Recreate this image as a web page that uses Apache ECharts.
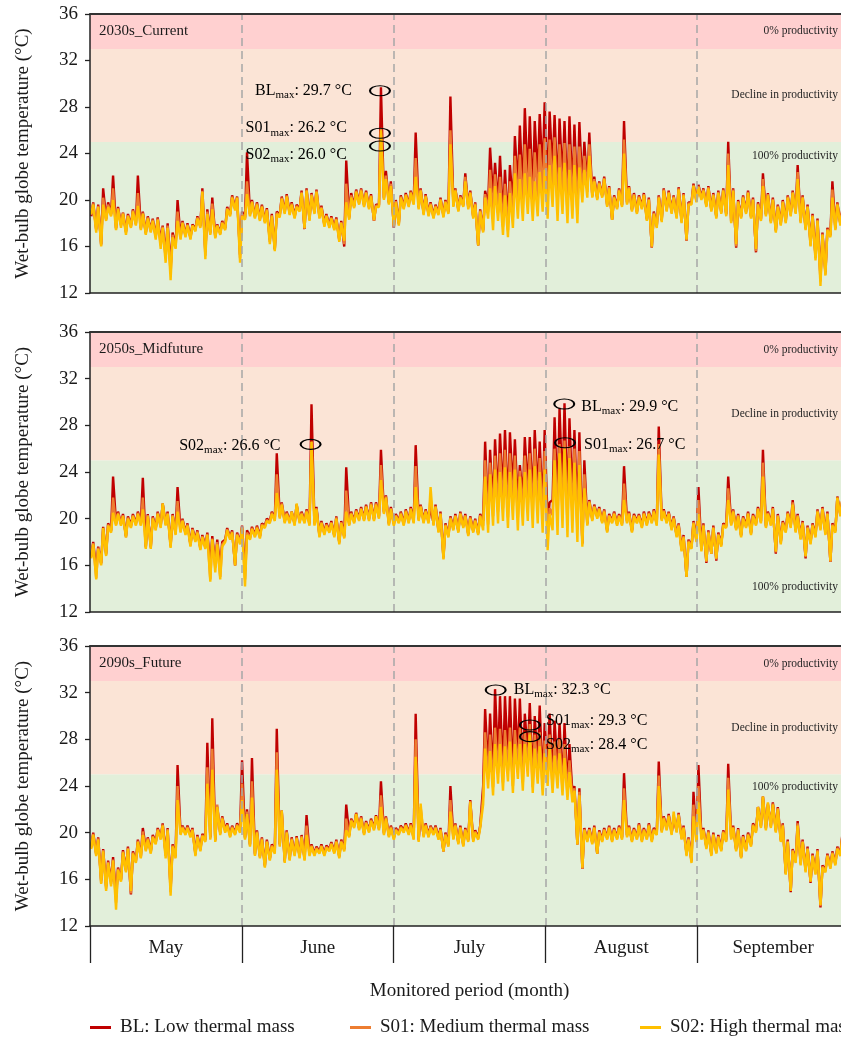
<!DOCTYPE html>
<html><head><meta charset="utf-8">
<script src="https://cdn.jsdelivr.net/npm/echarts@6/dist/echarts.min.js"></script>
<style>html,body{margin:0;padding:0;background:#fff}#c{width:841px;height:1042px}</style>
</head><body><div id="c"></div>
<script>
// ---------------- DATA ----------------
const months = ['May', 'June', 'July', 'August', 'September'];
const totalDays = 153;
const yTickMin = 12, yTickMax = 36, yTickStep = 4;
const panelNames = ['2030s_Current', '2050s_Midfuture', '2090s_Future'];
const seriesNames = ['BL: Low thermal mass', 'S01: Medium thermal mass', 'S02: High thermal mass'];
const bandNames = ['100% productivity', 'Decline in productivity', '0% productivity'];
const bandLimits = [12, 25, 33, 36];
const xTitle = 'Monitored period (month)';
const yTitle = 'Wet-bulb globe temperature (°C)';

// daily [min, max] pairs, May 1 .. September 30
const bl2030 = [
18.6,19.8, 17.5,19.6, 16.2,21.0, 18.4,19.8, 18.8,22.1, 17.6,19.4, 17.9,18.9, 17.3,18.8, 17.8,19.2, 18.0,22.1,
17.6,19.0, 17.2,18.6, 17.4,18.4, 16.9,18.5, 16.4,17.8, 15.3,18.0, 14.2,17.2, 16.0,20.0, 16.8,18.2, 17.0,18.0,
16.8,17.9, 17.5,18.6, 17.8,21.0, 15.5,19.2, 17.2,20.2, 16.9,17.9, 17.2,18.2, 17.6,19.4, 18.8,20.4, 19.3,20.3,
15.3,19.0, 18.5,24.1, 18.8,20.0, 18.6,19.8, 18.4,19.6, 18.2,19.3, 16.6,18.8, 15.8,19.0, 18.7,20.3, 19.0,20.5,
18.9,19.8, 18.6,19.6, 19.2,20.8, 17.5,21.0, 18.4,20.6, 19.0,20.9, 18.6,19.5, 17.9,18.8, 17.8,18.6, 17.6,18.5,
16.6,18.2, 16.0,23.4, 18.5,20.6, 19.5,20.9, 19.8,21.0, 19.6,20.8, 19.4,20.5, 18.2,19.6, 19.6,29.7, 20.2,22.5,
19.8,21.6, 17.6,20.0, 18.0,20.4, 19.4,20.6, 19.6,20.8, 19.8,25.8, 19.4,21.0, 18.9,20.5, 18.8,19.8, 18.6,19.6,
18.9,20.2, 18.7,20.0, 19.0,28.9, 19.6,21.0, 19.2,20.4, 19.6,22.3, 19.4,20.8, 18.6,19.8, 16.1,19.2, 17.4,20.8,
19.6,24.5, 20.2,23.2, 19.6,23.8, 18.4,22.6, 18.0,23.0, 19.5,25.5, 21.0,26.4, 20.5,27.9, 21.4,27.2, 20.2,26.8,
21.8,27.4, 22.2,28.4, 21.0,27.6, 22.4,27.3, 20.6,27.0, 21.5,26.8, 19.8,27.2, 20.4,26.5, 19.6,26.7, 21.0,25.0,
21.2,25.8, 20.4,22.0, 20.2,21.6, 20.4,22.0, 19.6,21.2, 18.3,20.4, 19.4,21.0, 19.6,26.8, 19.8,21.2, 19.2,20.6,
19.0,20.4, 19.4,20.6, 18.4,20.2, 15.9,19.0, 17.8,20.4, 18.3,21.0, 19.2,20.8, 19.0,20.4, 18.6,21.1, 18.2,20.6,
16.5,19.8, 19.8,21.4, 20.0,21.3, 20.2,21.0, 19.6,21.2, 19.2,20.6, 18.6,20.8, 19.0,21.0, 18.8,25.0, 18.2,21.0,
15.9,20.0, 18.6,20.4, 19.0,20.8, 18.6,20.2, 15.5,19.8, 18.4,22.3, 18.8,20.6, 18.2,20.2, 17.4,19.6, 18.0,20.0,
18.2,20.4, 18.8,20.8, 19.0,23.0, 18.2,20.4, 17.6,19.6, 16.3,18.8, 15.2,18.4, 13.4,17.2, 13.8,17.6, 17.0,21.6,
17.6,19.8, 18.0,19.2, 18.2,19.0
];
const s01_2030 = [
18.7,19.7, 17.4,19.5, 16.1,20.2, 18.3,19.6, 18.7,21.0, 17.5,19.3, 17.8,18.9, 17.2,18.7, 17.7,19.1, 17.9,20.6,
17.5,18.9, 17.1,18.5, 17.3,18.3, 16.8,18.4, 16.1,17.7, 15.0,17.8, 13.7,17.0, 15.9,19.0, 16.7,18.1, 16.9,17.9,
16.7,17.8, 17.4,18.5, 17.7,20.8, 15.2,19.0, 17.1,19.7, 16.8,17.8, 17.1,18.1, 17.5,19.3, 18.7,20.3, 19.2,20.2,
15.0,18.8, 18.4,21.6, 18.7,19.9, 18.5,19.7, 18.3,19.5, 18.1,19.2, 16.4,18.7, 15.7,18.9, 18.6,20.2, 18.9,20.4,
18.8,19.7, 18.5,19.5, 19.1,20.7, 17.5,20.9, 18.3,20.5, 18.9,20.8, 18.5,19.4, 17.8,18.7, 17.7,18.5, 17.5,18.4,
16.5,18.1, 16.2,21.4, 18.4,20.4, 19.4,20.8, 19.7,20.9, 19.5,20.7, 19.3,20.4, 18.2,19.5, 19.5,26.2, 20.1,22.1,
19.7,21.4, 17.7,19.9, 17.9,20.3, 19.3,20.5, 19.5,20.7, 19.7,23.6, 19.3,20.9, 18.8,20.4, 18.7,19.7, 18.5,19.5,
18.8,20.1, 18.6,19.9, 18.9,26.0, 19.5,20.9, 19.1,20.3, 19.5,22.0, 19.3,20.7, 18.5,19.7, 16.1,19.1, 17.3,20.5,
19.0,22.6, 18.8,22.2, 18.9,22.0, 17.7,21.4, 17.4,21.6, 18.5,23.8, 19.7,23.9, 19.3,24.8, 20.1,24.4, 19.2,24.1,
20.2,24.8, 20.6,25.3, 19.7,25.2, 20.9,25.4, 19.4,24.8, 20.1,24.9, 18.9,24.8, 19.4,24.6, 18.8,24.6, 20.4,23.8,
20.7,24.8, 20.3,21.8, 20.1,21.5, 20.3,21.9, 19.5,21.1, 18.3,20.3, 19.3,20.9, 19.5,25.2, 19.7,21.1, 19.1,20.5,
18.9,20.3, 19.3,20.5, 18.3,20.1, 15.9,18.9, 17.7,20.3, 18.2,20.9, 19.1,20.7, 18.9,20.3, 18.5,21.0, 18.1,20.5,
16.5,19.7, 19.7,21.3, 19.9,21.2, 20.1,20.9, 19.5,21.1, 19.1,20.5, 18.5,20.7, 18.9,20.9, 18.7,24.0, 18.1,20.9,
16.0,19.9, 18.5,20.3, 18.9,20.7, 18.5,20.1, 15.6,19.7, 18.3,21.8, 18.7,20.5, 18.1,20.1, 17.3,19.5, 17.9,19.9,
18.1,20.3, 18.7,20.7, 18.9,22.4, 18.1,20.3, 17.5,19.5, 16.1,18.7, 15.0,18.3, 13.0,17.1, 13.6,17.5, 16.9,20.9,
17.5,19.7, 17.9,19.1, 18.1,18.9
];
const s02_2030 = [
18.8,19.6, 17.2,19.4, 16.0,19.6, 18.2,19.4, 18.6,20.0, 17.4,19.2, 17.6,18.8, 17.0,18.6, 17.6,19.0, 17.8,19.5,
17.4,18.8, 17.0,18.4, 17.2,18.2, 16.6,18.3, 15.8,17.6, 14.6,17.6, 13.1,16.8, 15.8,18.2, 16.6,18.0, 16.8,17.8,
16.6,17.8, 17.3,18.4, 17.6,20.7, 14.9,18.8, 17.0,19.2, 16.7,17.8, 17.0,18.0, 17.4,19.2, 18.6,20.2, 19.1,20.2,
14.6,18.6, 18.3,20.5, 18.6,19.8, 18.4,19.6, 18.2,19.4, 18.0,19.1, 16.2,18.6, 15.6,18.8, 18.5,20.1, 18.8,20.3,
18.7,19.6, 18.4,19.4, 19.0,20.6, 17.6,20.8, 18.2,20.4, 18.8,20.7, 18.4,19.3, 17.7,18.6, 17.6,18.4, 17.4,18.3,
16.4,18.0, 16.5,19.8, 18.3,20.2, 19.3,20.7, 19.6,20.8, 19.4,20.6, 19.2,20.3, 18.3,19.4, 19.4,26.0, 20.0,21.8,
19.6,21.2, 17.8,19.8, 17.8,20.2, 19.2,20.4, 19.4,20.6, 19.6,22.0, 19.2,20.8, 18.7,20.3, 18.6,19.6, 18.4,19.4,
18.7,20.0, 18.5,19.8, 18.8,24.8, 19.4,20.8, 19.0,20.2, 19.4,21.6, 19.2,20.6, 18.4,19.6, 16.1,19.0, 17.2,20.2,
18.4,21.0, 17.4,21.2, 18.2,20.6, 17.0,20.4, 16.8,20.6, 17.6,22.3, 18.4,21.8, 18.2,22.3, 18.8,22.0, 18.2,21.6,
18.6,22.4, 19.0,22.6, 18.4,23.0, 19.4,23.8, 18.2,22.8, 18.8,23.2, 18.0,22.6, 18.4,23.0, 18.0,22.8, 19.8,22.6,
20.2,23.8, 20.2,21.6, 20.0,21.4, 20.2,21.8, 19.4,21.0, 18.3,20.2, 19.2,20.8, 19.4,24.0, 19.6,21.0, 19.0,20.4,
18.8,20.2, 19.2,20.4, 18.2,20.0, 16.0,18.8, 17.6,20.2, 18.1,20.8, 19.0,20.6, 18.8,20.2, 18.4,20.9, 18.0,20.4,
16.6,19.6, 19.6,21.2, 19.8,21.1, 20.0,20.8, 19.4,21.0, 19.0,20.4, 18.4,20.6, 18.8,20.8, 18.6,23.0, 18.0,20.8,
16.2,19.8, 18.4,20.2, 18.8,20.6, 18.4,20.0, 15.8,19.6, 18.2,21.2, 18.6,20.4, 18.0,20.0, 17.2,19.4, 17.8,19.8,
18.0,20.2, 18.6,20.6, 18.8,21.8, 18.0,20.2, 17.4,19.4, 16.0,18.6, 14.8,18.2, 12.6,17.0, 13.5,17.4, 16.8,20.2,
17.4,19.6, 17.8,19.0, 18.0,18.8
];
const bl2050 = [
16.8,18.0, 15.6,17.6, 16.2,19.3, 17.0,19.6, 19.0,23.6, 19.6,20.6, 19.6,20.4, 18.5,20.2, 19.4,20.4, 19.6,20.6,
19.6,23.5, 17.6,20.4, 17.6,20.2, 19.2,20.6, 19.4,21.3, 19.6,20.6, 17.7,20.4, 18.8,22.7, 19.0,20.0, 18.8,19.6,
17.8,19.2, 18.2,19.0, 17.5,18.6, 17.6,18.8, 16.0,18.5, 16.2,18.2, 15.8,18.0, 18.2,19.2, 18.4,19.0, 16.0,18.8,
18.0,19.4, 15.5,19.0, 18.4,19.3, 18.6,19.4, 18.5,19.6, 19.4,20.0, 19.8,20.6, 20.0,25.6, 20.2,21.4, 19.8,20.6,
19.8,20.6, 19.6,21.2, 19.8,20.6, 19.8,20.8, 19.6,29.8, 19.6,21.0, 18.6,19.8, 18.8,19.6, 19.0,19.8, 18.6,20.2,
18.0,19.8, 18.5,24.4, 19.6,20.6, 19.8,20.8, 20.0,21.0, 20.0,21.2, 20.0,21.4, 20.0,21.4, 20.2,25.9, 20.6,22.0,
19.6,21.0, 19.6,20.4, 19.8,20.6, 19.6,20.8, 19.8,21.0, 19.8,26.3, 20.0,21.2, 19.8,20.8, 19.8,21.0, 19.6,21.2,
19.0,20.6, 16.7,19.6, 18.6,20.2, 19.2,20.4, 19.0,20.6, 19.4,20.4, 18.7,20.2, 19.0,20.0, 18.8,20.4, 19.8,26.6,
20.2,25.9, 21.0,26.8, 21.6,27.3, 22.0,27.6, 21.0,27.4, 22.4,26.8, 21.2,24.6, 21.8,27.0, 22.4,27.0, 21.6,27.6,
22.2,26.6, 20.8,27.6, 19.8,21.4, 21.6,28.7, 21.0,29.5, 22.0,29.9, 20.8,28.6, 21.4,27.6, 20.2,27.4, 17.9,25.0,
19.6,21.6, 20.0,21.2, 20.2,21.0, 19.8,20.8, 19.0,20.4, 19.8,20.6, 19.6,20.4, 19.6,24.5, 19.8,20.6, 19.0,20.4,
19.8,20.4, 19.4,20.6, 19.6,20.6, 19.8,20.8, 19.6,27.9, 20.0,20.8, 19.8,20.6, 19.2,20.2, 18.6,19.6, 17.4,18.6,
15.0,18.2, 17.6,19.8, 18.2,22.7, 17.4,19.6, 16.2,19.0, 17.0,19.4, 16.4,18.8, 17.8,19.6, 19.4,23.6, 19.6,20.8,
19.2,20.4, 18.6,20.2, 19.4,20.6, 18.8,20.4, 19.6,21.0, 19.8,25.9, 19.4,20.6, 19.6,21.0, 17.0,20.4, 18.0,19.8,
19.0,20.6, 19.4,21.6, 19.0,20.4, 18.4,19.8, 16.6,19.4, 18.0,19.6, 18.6,20.8, 19.2,21.0, 18.8,20.6, 16.3,19.6,
19.0,21.9, 20.4,21.6, 20.6,21.8
];
const s01_2050 = [
16.7,17.9, 14.9,17.5, 16.1,19.2, 16.9,19.5, 18.9,21.8, 19.5,20.5, 19.5,20.3, 18.4,20.1, 19.3,20.3, 19.5,20.5,
19.5,21.8, 17.5,20.3, 17.5,20.1, 19.1,20.5, 19.3,21.3, 19.5,20.5, 17.6,20.3, 18.7,21.5, 18.9,19.9, 18.7,19.5,
17.7,19.1, 18.1,18.9, 17.4,18.5, 17.5,18.7, 14.8,18.3, 15.8,18.0, 15.0,17.8, 18.1,19.1, 18.3,18.9, 16.0,18.7,
17.9,19.3, 14.8,18.8, 18.3,19.2, 18.5,19.3, 18.4,19.5, 19.3,19.9, 19.7,20.5, 19.9,23.8, 20.1,21.3, 19.7,20.5,
19.7,20.6, 19.5,21.2, 19.7,20.5, 19.7,20.7, 19.5,26.6, 19.5,20.9, 18.5,19.7, 18.7,19.5, 18.9,19.7, 18.5,20.1,
17.9,19.7, 18.4,22.4, 19.5,20.5, 19.7,20.7, 19.9,20.9, 19.9,21.1, 19.9,21.3, 19.9,21.3, 20.1,24.6, 20.5,21.9,
19.5,20.9, 19.5,20.3, 19.7,20.5, 19.5,20.7, 19.7,20.9, 19.7,24.5, 19.9,21.1, 19.7,20.7, 19.7,21.8, 19.5,21.1,
18.9,20.5, 16.6,19.5, 18.5,20.1, 19.1,20.3, 18.9,20.5, 19.3,20.3, 18.6,20.1, 18.9,19.9, 18.7,20.3, 19.4,25.0,
19.5,24.8, 20.2,25.4, 20.6,25.6, 20.9,25.9, 20.1,25.6, 21.1,25.4, 20.1,24.1, 20.6,25.4, 21.1,25.6, 20.4,26.0,
20.9,25.2, 19.8,25.8, 18.6,20.9, 20.3,26.0, 19.8,26.4, 20.6,26.7, 19.6,26.2, 20.1,26.0, 19.1,25.8, 17.8,23.8,
19.5,21.5, 19.9,21.1, 20.1,20.9, 19.7,20.7, 18.9,20.3, 19.7,20.5, 19.5,20.3, 19.5,23.0, 19.7,20.5, 18.9,20.3,
19.7,20.3, 19.3,20.5, 19.5,20.5, 19.7,20.7, 19.5,26.4, 19.9,20.7, 19.7,20.5, 19.1,20.1, 18.5,19.5, 17.3,18.5,
15.0,18.1, 17.5,19.7, 18.1,21.6, 17.3,19.5, 16.3,18.9, 17.0,19.3, 16.5,18.7, 17.7,19.5, 19.3,22.6, 19.5,20.7,
19.1,20.3, 18.5,20.1, 19.3,20.5, 18.7,20.3, 19.5,20.9, 19.7,24.8, 19.3,20.5, 19.5,20.9, 17.1,20.3, 17.9,19.7,
18.9,20.5, 19.3,21.4, 18.9,20.3, 18.3,19.7, 16.7,19.3, 17.9,19.5, 18.5,20.7, 19.1,20.9, 18.7,20.5, 16.3,19.5,
18.9,21.8, 20.3,21.6, 20.5,21.8
];
const s02_2050 = [
16.6,17.8, 14.8,17.4, 16.0,19.2, 16.8,19.4, 18.8,20.5, 19.4,20.4, 19.4,20.2, 18.4,20.0, 19.2,20.2, 19.4,20.4,
19.4,20.8, 17.4,20.2, 17.4,20.0, 19.0,20.4, 19.2,21.3, 19.4,20.4, 17.5,20.2, 18.6,20.6, 18.8,19.8, 18.6,19.4,
17.6,19.0, 18.0,18.8, 17.3,18.4, 17.4,18.6, 14.6,18.2, 15.4,17.8, 14.8,17.6, 18.0,19.0, 18.2,18.8, 16.0,18.6,
17.8,19.2, 14.2,18.6, 18.2,19.1, 18.4,19.2, 18.3,19.4, 19.2,19.8, 19.6,20.4, 19.8,22.2, 20.0,21.2, 19.6,20.4,
19.6,20.6, 19.4,21.3, 19.6,20.4, 19.6,20.6, 19.4,26.6, 19.4,20.8, 18.4,19.6, 18.6,19.4, 18.8,19.6, 18.4,20.0,
17.8,19.6, 18.3,20.6, 19.4,20.4, 19.6,20.6, 19.8,20.8, 19.8,21.0, 19.8,21.2, 19.8,21.2, 20.0,23.3, 20.4,21.8,
19.4,20.8, 19.4,20.2, 19.6,20.4, 19.4,20.6, 19.6,20.8, 19.6,22.7, 19.8,21.0, 19.6,20.6, 19.6,22.7, 19.4,21.0,
18.8,20.4, 16.5,19.4, 18.4,20.0, 19.0,20.2, 18.8,20.4, 19.2,20.2, 18.5,20.0, 18.8,19.8, 18.6,20.2, 19.0,23.6,
18.8,23.8, 19.4,24.2, 19.6,24.0, 19.8,24.4, 19.2,24.0, 19.9,24.2, 19.0,23.6, 19.4,24.0, 19.8,24.2, 19.2,24.5,
19.6,24.0, 18.8,24.2, 17.3,20.4, 19.0,25.0, 18.6,25.6, 19.2,26.0, 18.4,25.2, 18.8,24.8, 18.0,24.6, 17.6,22.6,
19.4,21.4, 19.8,21.0, 20.0,20.8, 19.6,20.6, 18.8,20.2, 19.6,20.4, 19.4,20.2, 19.4,21.6, 19.6,20.4, 18.8,20.2,
19.6,20.2, 19.2,20.4, 19.4,20.4, 19.6,20.6, 19.4,25.5, 19.8,20.6, 19.6,20.4, 19.0,20.0, 18.4,19.4, 17.2,18.4,
15.0,18.0, 17.4,19.6, 18.0,20.4, 17.2,19.4, 16.4,18.8, 17.0,19.2, 16.6,18.6, 17.6,19.4, 19.2,21.6, 19.4,20.6,
19.0,20.2, 18.4,20.0, 19.2,20.4, 18.6,20.2, 19.4,20.8, 19.6,23.6, 19.2,20.4, 19.4,20.8, 17.2,20.2, 17.8,19.6,
18.8,20.4, 19.2,21.2, 18.8,20.2, 18.2,19.6, 16.8,19.2, 17.8,19.4, 18.4,20.6, 19.0,20.8, 18.6,20.4, 16.4,19.4,
18.8,21.8, 20.2,21.6, 20.4,21.8
];
const bl2090 = [
18.8,20.0, 18.2,19.6, 15.9,18.6, 15.4,17.6, 15.8,17.9, 14.5,17.0, 16.0,18.5, 16.8,18.8, 14.7,18.4, 17.6,19.4,
18.0,20.4, 18.6,19.6, 18.4,19.8, 19.2,20.4, 19.6,20.8, 18.2,20.4, 15.2,19.0, 18.0,25.8, 20.0,20.6, 20.0,20.6,
19.8,20.4, 18.2,19.8, 18.6,19.9, 19.4,27.7, 19.6,29.8, 19.4,22.2, 20.0,21.4, 20.2,20.8, 19.8,20.6, 20.0,20.8,
20.2,26.2, 19.6,22.0, 19.0,26.4, 18.2,20.2, 18.0,19.6, 17.2,19.4, 17.8,19.0, 18.4,28.9, 19.0,21.9, 17.6,20.2,
17.8,19.6, 18.2,19.7, 18.0,19.8, 17.8,21.5, 18.2,19.0, 18.2,18.8, 18.4,19.0, 18.2,18.9, 18.6,19.2, 18.4,19.4,
18.0,19.4, 18.6,22.4, 19.8,21.2, 20.6,21.7, 20.4,21.4, 20.0,21.0, 20.2,21.2, 20.4,21.5, 20.4,24.4, 20.0,21.4,
19.8,20.6, 19.6,20.4, 20.0,20.6, 20.2,20.8, 20.0,20.8, 19.6,30.2, 19.4,21.6, 19.8,20.8, 19.8,20.6, 20.0,20.6,
19.6,20.4, 18.4,20.0, 19.0,24.0, 19.6,20.8, 19.2,20.6, 19.0,20.4, 19.4,22.8, 19.4,20.2, 19.6,20.6, 24.0,30.6,
25.4,30.2, 24.6,32.3, 26.0,31.7, 25.0,31.7, 26.2,31.7, 24.6,31.5, 26.4,31.5, 25.0,30.2, 26.6,31.1, 24.4,30.0,
25.8,30.9, 24.2,29.4, 25.6,30.2, 24.4,29.6, 25.2,29.4, 24.0,29.4, 23.6,27.6, 23.4,24.0, 19.0,23.8, 16.9,20.4,
19.4,20.4, 19.2,20.6, 18.2,20.2, 19.4,20.4, 19.6,20.6, 19.4,20.4, 19.6,20.6, 19.6,25.1, 19.8,20.6, 19.4,20.4,
19.6,20.8, 19.4,20.4, 19.6,20.8, 19.4,20.4, 20.0,26.1, 20.2,21.4, 20.4,21.6, 20.0,21.2, 20.2,21.7, 19.6,20.6,
18.2,19.6, 17.6,23.5, 19.4,25.8, 19.6,20.4, 18.8,20.2, 18.2,20.0, 18.4,19.8, 18.6,20.2, 19.4,25.9, 19.6,20.6,
18.6,20.4, 17.9,19.8, 18.6,20.0, 19.0,20.8, 20.2,22.2, 20.6,23.1, 20.4,22.4, 20.6,22.6, 20.2,22.2, 19.4,20.8,
16.5,19.4, 14.9,18.6, 17.6,21.0, 17.4,19.4, 16.8,18.8, 15.7,18.2, 16.6,18.6, 13.6,17.2, 16.8,18.2, 17.1,18.4,
17.4,18.8, 18.2,19.8, 18.8,20.2
];
const s01_2090 = [
18.7,19.9, 18.1,19.5, 15.7,18.5, 15.2,17.5, 15.6,17.7, 14.0,16.9, 15.9,18.4, 16.7,18.7, 14.8,18.3, 17.5,19.3,
17.9,20.1, 18.5,19.5, 18.3,19.7, 19.1,20.3, 19.5,20.7, 18.0,20.3, 14.9,18.9, 17.9,24.0, 19.9,20.5, 19.9,20.5,
19.7,20.3, 18.1,19.7, 18.5,19.8, 19.3,25.6, 19.5,27.2, 19.3,22.4, 19.9,21.3, 20.1,20.7, 19.7,20.5, 19.9,20.7,
20.1,24.2, 19.5,21.8, 18.9,24.4, 18.1,20.1, 17.9,19.5, 17.1,19.3, 17.7,18.9, 18.3,26.9, 18.9,21.9, 17.5,20.1,
17.7,19.5, 18.1,19.6, 17.9,19.7, 17.7,20.6, 18.1,18.9, 18.1,18.7, 18.3,18.9, 18.1,18.8, 18.5,19.1, 18.3,19.3,
17.9,19.3, 18.5,21.2, 19.7,21.1, 20.5,21.6, 20.3,21.3, 19.9,20.9, 20.1,21.1, 20.3,21.4, 20.3,23.2, 19.9,21.3,
19.7,20.5, 19.5,20.3, 19.9,20.5, 20.1,20.7, 19.9,20.7, 19.5,28.0, 19.3,22.2, 19.7,20.7, 19.7,20.5, 19.9,20.5,
19.5,20.3, 18.4,19.9, 18.9,22.8, 19.5,20.7, 19.1,20.5, 18.9,20.3, 19.3,22.7, 19.3,20.1, 19.5,20.5, 23.2,28.6,
24.6,28.4, 23.9,29.0, 25.1,28.9, 24.3,28.8, 25.3,29.0, 24.0,28.8, 25.5,29.0, 24.3,28.6, 25.7,29.3, 23.9,28.4,
25.0,28.6, 23.7,27.9, 24.8,28.4, 23.9,27.8, 24.5,28.0, 23.6,27.6, 23.2,26.2, 23.0,23.8, 19.0,23.5, 16.9,20.3,
19.3,20.3, 19.1,20.5, 18.2,20.1, 19.3,20.3, 19.5,20.5, 19.3,20.3, 19.5,20.5, 19.5,23.8, 19.7,20.5, 19.3,20.3,
19.5,20.7, 19.3,20.3, 19.5,20.7, 19.3,20.3, 19.9,24.9, 20.1,21.3, 20.3,21.5, 19.9,21.5, 20.1,21.6, 19.5,20.5,
18.1,19.5, 17.5,22.4, 19.3,24.0, 19.5,20.3, 18.7,20.1, 18.1,19.9, 18.3,19.7, 18.5,20.1, 19.3,24.7, 19.5,20.5,
18.5,20.3, 17.9,19.7, 18.5,19.9, 18.9,20.7, 20.1,22.2, 20.5,23.1, 20.3,22.5, 20.5,22.5, 20.1,22.1, 19.3,20.7,
16.5,19.3, 15.0,18.5, 17.5,20.8, 17.3,19.3, 16.7,18.7, 15.8,18.1, 16.5,18.5, 13.7,17.1, 16.7,18.1, 17.0,18.3,
17.3,18.7, 18.1,19.7, 18.7,20.1
];
const s02_2090 = [
18.6,19.8, 18.0,19.4, 15.6,18.4, 15.0,17.4, 15.4,17.6, 13.4,16.8, 15.8,18.3, 16.6,18.6, 15.0,18.2, 17.4,19.2,
17.8,19.8, 18.4,19.4, 18.2,19.6, 19.0,20.2, 19.4,20.6, 17.8,20.2, 14.6,18.8, 17.8,22.8, 19.8,20.4, 19.8,20.4,
19.6,20.2, 18.0,19.6, 18.4,19.7, 19.2,24.2, 19.4,25.4, 19.2,22.2, 19.8,21.2, 20.0,20.6, 19.6,20.4, 19.8,20.6,
20.0,22.8, 19.4,21.6, 18.8,23.0, 18.0,20.0, 17.8,19.4, 17.0,19.2, 17.6,18.8, 18.2,25.4, 18.8,21.9, 17.4,20.0,
17.6,19.4, 18.0,19.5, 17.8,19.6, 17.6,19.8, 18.0,18.8, 18.0,18.6, 18.2,18.8, 18.0,18.7, 18.4,19.0, 18.2,19.2,
17.8,19.2, 18.4,20.2, 19.6,21.0, 20.4,21.6, 20.2,21.2, 19.8,20.8, 20.0,21.0, 20.2,21.4, 20.2,22.2, 19.8,21.2,
19.6,20.4, 19.4,20.2, 19.8,20.4, 20.0,20.6, 19.8,20.6, 19.4,26.5, 19.2,22.5, 19.6,20.6, 19.6,20.4, 19.8,20.4,
19.4,20.2, 18.4,19.8, 18.8,21.8, 19.4,20.6, 19.0,20.4, 18.8,20.2, 19.2,22.6, 19.2,20.0, 19.4,20.4, 22.4,27.2,
23.8,27.0, 23.2,27.6, 24.2,27.6, 23.6,27.4, 24.4,27.8, 23.4,27.6, 24.6,27.6, 23.6,27.6, 24.8,28.4, 23.4,27.2,
24.2,27.4, 23.2,26.8, 24.0,27.2, 23.4,26.6, 23.8,26.8, 23.2,26.4, 22.8,25.2, 22.6,23.6, 19.0,23.2, 17.0,20.2,
19.2,20.2, 19.0,20.4, 18.2,20.0, 19.2,20.2, 19.4,20.4, 19.2,20.2, 19.4,20.4, 19.4,22.8, 19.6,20.4, 19.2,20.2,
19.4,20.6, 19.2,20.2, 19.4,20.6, 19.2,20.2, 19.8,24.0, 20.0,21.2, 20.2,21.4, 19.8,21.8, 20.0,21.5, 19.4,20.4,
18.0,19.4, 17.4,21.4, 19.2,22.6, 19.4,20.2, 18.6,20.0, 18.0,19.8, 18.2,19.6, 18.4,20.0, 19.2,23.7, 19.4,20.4,
18.4,20.2, 17.8,19.6, 18.4,19.8, 18.8,20.6, 20.0,22.2, 20.4,23.1, 20.2,22.6, 20.4,22.4, 20.0,22.0, 19.2,20.6,
16.4,19.2, 15.0,18.4, 17.4,20.6, 17.2,19.2, 16.6,18.6, 15.8,18.0, 16.4,18.4, 13.8,17.0, 16.6,18.0, 16.9,18.2,
17.2,18.6, 18.0,19.6, 18.6,20.0
];

// ---------------- CHART ----------------
const panelData = [
  [bl2030, s01_2030, s02_2030],
  [bl2050, s01_2050, s02_2050],
  [bl2090, s01_2090, s02_2090]
];
const lineColors = ['#C00000', '#ED7D31', '#FFC000'];
const bandColors = ['#E2EFDA', '#FBE4D6', '#FFD0D0'];
const serif = "'Liberation Serif', 'Times New Roman', serif";
const textColor = '#1a1a1a';

const grids = [
  { left: 90, top: 14, width: 759, height: 279, outerBoundsMode: 'none', containLabel: false },
  { left: 90, top: 332, width: 759, height: 280, outerBoundsMode: 'none', containLabel: false },
  { left: 90, top: 646, width: 759, height: 280, outerBoundsMode: 'none', containLabel: false }
];
// where the "100% productivity" text sits in each panel
const greenLabelPos = [
  { position: 'insideTopRight', distance: 8, offset: [-3, 0] },
  { position: 'insideBottomRight', distance: 11, offset: [0, -8] },
  { position: 'insideTopRight', distance: 7, offset: [-4, 0] }
];
// ellipse markers and their captions (layout)
const annotationLayout = [
  { p: 0, tag: 'BL', val: '29.7', at: [58.45, 29.4], side: 'left', dist: 17, off: [0, 0] },
  { p: 0, tag: 'S01', val: '26.2', at: [58.45, 25.74], side: 'left', dist: 22, off: [0, -5] },
  { p: 0, tag: 'S02', val: '26.0', at: [58.45, 24.64], side: 'left', dist: 22, off: [0, 9] },
  { p: 1, tag: 'S02', val: '26.6', at: [44.47, 26.37], side: 'left', dist: 19, off: [0, 1] },
  { p: 1, tag: 'BL', val: '29.9', at: [95.6, 29.83], side: 'right', dist: 6, off: [0, 3] },
  { p: 1, tag: 'S01', val: '26.7', at: [95.75, 26.51], side: 'right', dist: 8, off: [0, 2] },
  { p: 2, tag: 'BL', val: '32.3', at: [81.78, 32.23], side: 'right', dist: 7, off: [0, 0] },
  { p: 2, tag: 'S01', val: '29.3', at: [88.69, 29.23], side: 'right', dist: 5, off: [0, -4] },
  { p: 2, tag: 'S02', val: '28.4', at: [88.69, 28.23], side: 'right', dist: 5, off: [0, 8] }
];

function toPoints(arr) {
  const out = [];
  for (let i = 0; i < arr.length; i++) {
    const d = Math.floor(i / 2);
    out.push([d + (i % 2 === 0 ? 0.25 : 0.65), arr[i]]);
  }
  return out;
}
const monthBounds = [];
for (let k = 1; k < months.length; k++) monthBounds.push(k * totalDays / months.length);

const xAxes = [], yAxes = [], series = [];
grids.forEach((g, gi) => {
  const last = gi === grids.length - 1;
  xAxes.push({
    type: 'value', gridIndex: gi, min: 0, max: totalDays, position: 'top', z: 5,
    axisLine: { show: true, onZero: false, lineStyle: { color: '#333', width: 1.8 } },
    axisTick: { show: false }, axisLabel: { show: false }, splitLine: { show: false }
  });
  xAxes.push({
    type: 'category', gridIndex: gi, data: months, position: 'bottom', boundaryGap: true, z: 5,
    axisLine: { show: true, onZero: false, lineStyle: { color: '#222', width: 1.5 } },
    axisTick: { show: last, interval: 0, length: 37, lineStyle: { color: '#222', width: 1.3 } },
    axisLabel: { show: last, interval: 0, margin: 13, fontSize: 19, fontFamily: serif, color: textColor },
    splitLine: { show: false },
    name: last ? xTitle : '', nameLocation: 'middle', nameGap: 56,
    nameTextStyle: { fontSize: 19, fontFamily: serif, color: textColor }
  });
  yAxes.push({
    type: 'value', gridIndex: gi, min: yTickMin, max: yTickMax, interval: yTickStep, z: 5,
    axisLine: { show: true, lineStyle: { color: '#222', width: 1.5 } },
    axisTick: { show: true, length: 5, lineStyle: { color: '#222', width: 1.3 } },
    axisLabel: { fontSize: 19, fontFamily: serif, color: textColor, margin: 12 },
    splitLine: { show: false },
    name: yTitle, nameLocation: 'middle', nameGap: 57,
    nameTextStyle: { fontSize: 19, fontFamily: serif, color: textColor }
  });
  const bandLabel = { show: true, fontSize: 11.5, fontFamily: serif, color: '#262626' };
  series.push({
    type: 'line', xAxisIndex: gi * 2, yAxisIndex: gi, data: [], z: 1, silent: true,
    markArea: {
      silent: true,
      data: [
        [{ yAxis: bandLimits[0], itemStyle: { color: bandColors[0] },
           label: Object.assign({}, bandLabel, greenLabelPos[gi], { formatter: bandNames[0] }) },
         { yAxis: bandLimits[1] }],
        [{ yAxis: bandLimits[1], itemStyle: { color: bandColors[1] },
           label: Object.assign({}, bandLabel, { position: 'insideRight', distance: 11, formatter: bandNames[1] }) },
         { yAxis: bandLimits[2] }],
        [{ yAxis: bandLimits[2], itemStyle: { color: bandColors[2] },
           label: { show: true, position: 'insideLeft', distance: 9, fontSize: 15, fontFamily: serif, color: textColor, formatter: panelNames[gi] } },
         { yAxis: bandLimits[3] }],
        [{ yAxis: bandLimits[2], itemStyle: { color: 'rgba(0,0,0,0)' },
           label: Object.assign({}, bandLabel, { position: 'insideRight', distance: 11, formatter: bandNames[2] }) },
         { yAxis: bandLimits[3] }]
      ]
    },
    markLine: {
      silent: true, symbol: 'none', label: { show: false },
      lineStyle: { color: '#A6A6A6', type: [8, 5], width: 1.5 },
      data: monthBounds.map(v => ({ xAxis: v }))
    }
  });
  panelData[gi].forEach((arr, si) => {
    series.push({
      name: seriesNames[si], type: 'line', xAxisIndex: gi * 2, yAxisIndex: gi,
      data: toPoints(arr), showSymbol: false, z: 2, silent: true,
      color: lineColors[si],
      lineStyle: { color: lineColors[si], width: 2.4 },
      itemStyle: { color: lineColors[si] }
    });
  });
  series.push({
    type: 'line', xAxisIndex: gi * 2, yAxisIndex: gi, data: [], z: 4, silent: true,
    markPoint: {
      silent: true,
      data: annotationLayout.filter(a => a.p === gi).map(a => ({
        coord: a.at, symbol: 'circle', symbolSize: [20, 10],
        itemStyle: { color: 'rgba(0,0,0,0)', borderColor: '#000', borderWidth: 1.5 },
        label: {
          show: true, position: a.side, distance: a.dist, offset: a.off,
          formatter: '{n|' + a.tag + '}{s|max}{n|: ' + a.val + ' °C}',
          rich: {
            n: { fontSize: 16, fontFamily: serif, color: '#000', lineHeight: 20 },
            s: { fontSize: 11, fontFamily: serif, color: '#000', lineHeight: 6, verticalAlign: 'bottom' }
          }
        }
      }))
    }
  });
});

const legendLefts = [90, 350, 640];
const legends = seriesNames.map((n, i) => ({
  data: [n], left: legendLefts[i], top: 1018, padding: 0, icon: 'rect', itemWidth: 21, itemHeight: 3,
  selectedMode: false,
  textStyle: { fontSize: 19, fontFamily: serif, color: textColor, padding: [0, 0, 0, 4] }
}));

const chart = echarts.init(document.getElementById('c'), null, { renderer: 'canvas' });
chart.setOption({
  animation: false,
  backgroundColor: '#fff',
  grid: grids,
  xAxis: xAxes,
  yAxis: yAxes,
  legend: legends,
  series: series
});
</script>
</body></html>
